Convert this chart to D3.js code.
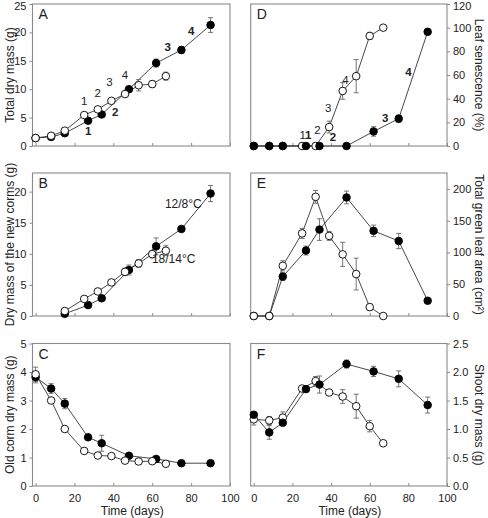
<!DOCTYPE html>
<html><head><meta charset="utf-8">
<script src="https://cdn.jsdelivr.net/npm/d3@7"></script>
<style>
body{margin:0;background:#fff;}
text{font-family:"Liberation Sans",Arial,sans-serif;fill:#222;}
</style></head>
<body><svg id="c" width="488" height="518"></svg>
<script>
// ---- data ----
const daysOpen   = [0, 8, 15, 25, 32, 39, 46, 53, 60, 67];   // 18/14°C (open)
const daysFilled = [0, 8, 15, 27, 34, 48, 62, 75, 90];       // 12/8°C (filled)
const xTicks = [0, 20, 40, 60, 80, 100];

// A: total dry mass (g)
const totalMassOpen    = [1.4, 1.8, 2.7, 5.45, 6.45, 7.95, 9.15, 10.7, 10.9, 12.3];
const totalMassOpenErr = [0.1, 0.1, 0.15, 0.2, 0.2, 0.3, 0.4, 1.0, 0.6, 0.7];
const totalMassFilled    = [1.4, 1.6, 2.25, 4.45, 5.55, 10.0, 14.6, 16.9, 21.3];
const totalMassFilledErr = [0.1, 0.1, 0.2, 0.2, 0.3, 0.5, 0.7, 0.6, 1.3];
const ticksA = [0, 5, 10, 15, 20, 25];

// B: dry mass of the new corms (g)
const newCormOpen    = [null, null, 0.8, 2.75, 3.95, 5.4, 7.1, 8.45, 9.95, 10.5];
const newCormOpenErr = [0, 0, 0.1, 0.1, 0.1, 0.15, 0.6, 0.6, 0.6, 0.8];
const newCormFilled    = [null, null, 0.35, 1.75, 2.85, 7.4, 11.2, 14.0, 19.7];
const newCormFilledErr = [0, 0, 0.1, 0.1, 0.1, 0.8, 1.35, 0.2, 1.3];
const ticksB = [0, 5, 10, 15, 20];

// C: old corm dry mass (g)
const oldCormOpen    = [3.92, 3.0, 2.0, 1.23, 1.07, 1.05, 0.89, 0.86, 0.87, 0.78];
const oldCormOpenErr = [0.25, 0.04, 0.06, 0.04, 0.03, 0.03, 0.03, 0.03, 0.07, 0.03];
const oldCormFilled    = [3.82, 3.42, 2.89, 1.71, 1.50, 1.06, 0.95, 0.80, 0.80];
const oldCormFilledErr = [0.2, 0.17, 0.18, 0.05, 0.28, 0.04, 0.05, 0.03, 0.03];
const ticksC = [0, 1, 2, 3, 4, 5];

// D: leaf senescence (%)
const senescOpen    = [0, 0, 0, 0, 0, 16, 46.5, 59, 93, 100];
const senescOpenErr = [0, 0, 0, 0, 0, 5, 7, 14, 3, 0];
const senescFilled    = [0, 0, 0, 0, 0, 0, 12.3, 23.1, 96.5];
const senescFilledErr = [0, 0, 0, 0, 0, 0, 4, 3, 0];
const ticksD = [0, 20, 40, 60, 80, 100, 120];

// E: total green leaf area (cm2)
const leafAreaOpen    = [0, 0, 79, 130, 187.5, 126, 97, 66, 14, 0];
const leafAreaOpenErr = [0, 0, 8, 8, 10, 7, 19, 25, 5, 0];
const leafAreaFilled    = [0, 0, 62, 103, 136, 186.5, 134, 118, 24];
const leafAreaFilledErr = [0, 0, 6, 7, 17, 10, 9, 12, 3];
const ticksE = [0, 50, 100, 150, 200];

// F: shoot dry mass (g)
const shootOpen    = [1.17, 1.15, 1.2, 1.71, 1.84, 1.64, 1.57, 1.40, 1.05, 0.75];
const shootOpenErr = [0.1, 0.07, 0.1, 0.03, 0.08, 0.03, 0.12, 0.21, 0.1, 0.03];
const shootFilled    = [1.25, 0.94, 1.11, 1.70, 1.78, 2.14, 2.01, 1.88, 1.42];
const shootFilledErr = [0.05, 0.12, 0.05, 0.05, 0.15, 0.07, 0.09, 0.14, 0.14];
const ticksF = [0, 0.5, 1.0, 1.5, 2.0, 2.5];

// stage annotations (number, day, value, series)
const annotA = [
  {t:"1", d:25, v:7.2, bold:false}, {t:"2", d:32, v:8.6, bold:false},
  {t:"3", d:38, v:10.5, bold:false}, {t:"4", d:46, v:11.8, bold:false},
  {t:"1", d:27, v:2.0, bold:true}, {t:"2", d:41, v:5.2, bold:true},
  {t:"3", d:68, v:16.8, bold:true}, {t:"4", d:80, v:19.5, bold:true}
];
const annotD = [
  {t:"1", d:25.3, v:6, bold:false}, {t:"1", d:28.2, v:6, bold:true},
  {t:"2", d:33, v:10.5, bold:false}, {t:"2", d:41, v:4.5, bold:true},
  {t:"3", d:38.5, v:28.5, bold:false}, {t:"4", d:47.5, v:52.5, bold:false},
  {t:"3", d:68, v:20.5, bold:true}, {t:"4", d:80, v:59, bold:true}
];
const labelsB = [
  {t:"12/8°C", d:76, v:17.4}, {t:"18/14°C", d:71, v:8.5}
];

// ---- layout ----
const svg = d3.select("#c");
const colL = [32.5, 230], colR = [250.7, 447];
const rows = [[4, 146], [173, 316], [343.5, 486]];

const panels = [
  {id:"A", col:colL, row:rows[0], dom:[0,25], ticks:ticksA, fmt:d3.format("d"), side:"left", title:"Total dry mass (g)",
   open:totalMassOpen, openErr:totalMassOpenErr, filled:totalMassFilled, filledErr:totalMassFilledErr, openTop:true, annot:annotA, xlab:false},
  {id:"B", col:colL, row:rows[1], dom:[0,23], ticks:ticksB, fmt:d3.format("d"), side:"left", title:"Dry mass of the new corms (g)",
   open:newCormOpen, openErr:newCormOpenErr, filled:newCormFilled, filledErr:newCormFilledErr, openTop:true, xlab:false},
  {id:"C", col:colL, row:rows[2], dom:[0,5], ticks:ticksC, fmt:d3.format("d"), side:"left", title:"Old corm dry mass (g)",
   open:oldCormOpen, openErr:oldCormOpenErr, filled:oldCormFilled, filledErr:oldCormFilledErr, openTop:true, xlab:true},
  {id:"D", col:colR, row:rows[0], dom:[0,120], ticks:ticksD, fmt:d3.format("d"), side:"right", title:"Leaf senescence (%)",
   open:senescOpen, openErr:senescOpenErr, filled:senescFilled, filledErr:senescFilledErr, openTop:false, annot:annotD, xlab:false},
  {id:"E", col:colR, row:rows[1], dom:[0,225], ticks:ticksE, fmt:d3.format("d"), side:"right", title:"Total green leaf area (cm²)",
   open:leafAreaOpen, openErr:leafAreaOpenErr, filled:leafAreaFilled, filledErr:leafAreaFilledErr, openTop:true, xlab:false},
  {id:"F", col:colR, row:rows[2], dom:[0,2.5], ticks:ticksF, fmt:d3.format(".1f"), side:"right", title:"Shoot dry mass (g)",
   open:shootOpen, openErr:shootOpenErr, filled:shootFilled, filledErr:shootFilledErr, openTop:false, xlab:true}
];

panels.forEach(p => {
  const x = d3.scaleLinear().domain([-1.6, 100]).range(p.col);
  const y = d3.scaleLinear().domain(p.dom).range([p.row[1], p.row[0]]);
  const g = svg.append("g");

  // frame
  g.append("rect").attr("x", p.col[0]).attr("y", p.row[0])
    .attr("width", p.col[1]-p.col[0]).attr("height", p.row[1]-p.row[0])
    .attr("fill", "none").attr("stroke", "#8a8a8a").attr("stroke-width", 1.1);

  // x axis
  const xa = g.append("g").attr("transform", `translate(0,${p.row[1]})`)
    .call(d3.axisBottom(x).tickValues(xTicks).tickSize(-3).tickPadding(8)
      .tickFormat(p.xlab ? d3.format("d") : () => ""));
  xa.select(".domain").remove();
  xa.selectAll(".tick line").attr("stroke", "#8a8a8a");
  xa.selectAll("text").attr("font-size", 11).attr("fill", "#222")
    .style("font-family", "'Liberation Sans', Arial, sans-serif");

  // y axis
  const ax = p.side === "left" ? d3.axisLeft(y) : d3.axisRight(y);
  const ya = g.append("g").attr("transform", `translate(${p.side === "left" ? p.col[0] : p.col[1]},0)`)
    .call(ax.tickValues(p.ticks).tickFormat(p.fmt).tickSize(3).tickPadding(3));
  ya.select(".domain").remove();
  ya.selectAll(".tick line").attr("stroke", "#8a8a8a");
  ya.selectAll("text").attr("font-size", 11).attr("fill", "#222")
    .style("font-family", "'Liberation Sans', Arial, sans-serif");
  // keep top-most labels inside the page
  ya.selectAll(".tick text").filter(d => y(d) < 8).attr("dy", "0.32em").attr("y", 1.5);

  // y title
  const cy = (p.row[0] + p.row[1]) / 2;
  if (p.side === "left") {
    g.append("text").attr("transform", `translate(14,${cy}) rotate(-90)`)
      .attr("text-anchor", "middle").attr("font-size", 12).text(p.title);
  } else {
    g.append("text").attr("transform", `translate(475,${cy}) rotate(90)`)
      .attr("text-anchor", "middle").attr("font-size", 12).text(p.title);
  }
  if (p.xlab) {
    g.append("text").attr("x", (p.col[0]+p.col[1])/2 + 1).attr("y", 515)
      .attr("text-anchor", "middle").attr("font-size", 12).text("Time (days)");
  }

  // panel letter
  g.append("text").attr("x", p.col[0] + 6).attr("y", p.row[0] + 15)
    .attr("font-size", 14).text(p.id);

  // series
  const mk = (days, vals, errs) => days.map((d, i) => ({d, v: vals[i], e: errs[i]})).filter(o => o.v !== null);
  const sOpen = {pts: mk(daysOpen, p.open, p.openErr), fill: "#fff"};
  const sFilled = {pts: mk(daysFilled, p.filled, p.filledErr), fill: "#000"};
  const order = p.openTop ? [sFilled, sOpen] : [sOpen, sFilled];
  const line = d3.line().x(o => x(o.d)).y(o => y(o.v));

  order.forEach(s => {
    g.append("path").attr("d", line(s.pts)).attr("fill", "none")
      .attr("stroke", "#333").attr("stroke-width", 0.9);
  });
  order.forEach(s => {
    const eb = g.append("g").attr("stroke", "#666").attr("stroke-width", 0.9);
    s.pts.filter(o => o.e > 0).forEach(o => {
      const cx = x(o.d), y1 = y(o.v - o.e), y2 = y(o.v + o.e);
      eb.append("line").attr("x1", cx).attr("x2", cx).attr("y1", y1).attr("y2", y2);
      eb.append("line").attr("x1", cx-2.5).attr("x2", cx+2.5).attr("y1", y1).attr("y2", y1);
      eb.append("line").attr("x1", cx-2.5).attr("x2", cx+2.5).attr("y1", y2).attr("y2", y2);
    });
  });
  order.forEach(s => {
    g.selectAll(null).data(s.pts).enter().append("circle")
      .attr("cx", o => x(o.d)).attr("cy", o => y(o.v)).attr("r", 3.8)
      .attr("fill", s.fill).attr("stroke", "#000").attr("stroke-width", 0.9);
  });

  if (p.annot) {
    p.annot.forEach(a => {
      g.append("text").attr("x", x(a.d)).attr("y", y(a.v)).attr("text-anchor", "middle")
        .attr("font-size", 11.5).attr("font-weight", a.bold ? "bold" : "normal").text(a.t);
    });
  }
  if (p.id === "B") {
    labelsB.forEach(a => {
      g.append("text").attr("x", x(a.d)).attr("y", y(a.v)).attr("text-anchor", "middle")
        .attr("font-size", 12).text(a.t);
    });
  }
});
</script>
</body></html>
